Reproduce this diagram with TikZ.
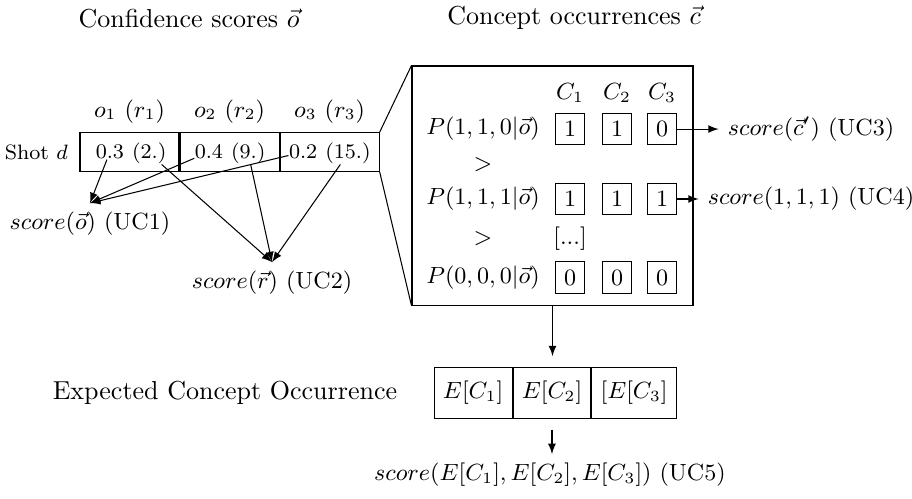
\documentclass[tikz,border=0pt]{standalone}
\usepackage{amssymb}
\usepackage{tikz}
\usetikzlibrary{
    arrows,
    calc,
    positioning
}

\begin{document}
\begin{tikzpicture}[
        cell/.style={draw, minimum width=1.338cm, minimum height=0.52cm},
        val/.style={inner sep=0pt, font=\footnotesize},
        bit/.style={draw, font=\small, minimum width=11pt, minimum height=12pt, inner sep=1pt},
        ecell/.style={draw, font=\small, minimum height=0.7cm},
        lbl/.style={font=\small}
    ]
    \useasboundingbox (0,0) rectangle (12.324,6.730);

    \node (hdro) at (2.554,6.486) {Confidence scores $\vec{o}$};
    \node (hdrc) at (7.757,6.486) {Concept occurrences $\vec{c}$};

    % confidence scores of the shot
    \node[cell] (s1) at (1.75,4.676) {};
    \node[cell, right=0pt of s1] (s2) {};
    \node[cell, right=0pt of s2] (s3) {};
    \node[font=\footnotesize, left=1pt of s1] (shot) {Shot $d$};
    \node[lbl, above=0pt of s1] (h1) {$o_1$ ($r_1$)};
    \node[lbl, above=0pt of s2] (h2) {$o_2$ ($r_2$)};
    \node[lbl, above=0pt of s3] (h3) {$o_3$ ($r_3$)};

    \node[val] (o1) at (1.485,4.676) {0.3};
    \node[val, base right=2.7pt of o1] (r1) {(2.)};
    \node[val] (o2) at (2.823,4.676) {0.4};
    \node[val, base right=2.7pt of o2] (r2) {(9.)};
    \node[val] (o3) at (4.096,4.676) {0.2};
    \node[val, base right=2.7pt of o3] (r3) {(15.)};

    \node[lbl] (uc1) at (1.216,3.703) {$score(\vec{o})$ (UC1)};
    \node[lbl] (uc2) at (3.676,2.905) {$score(\vec{r})$ (UC2)};

    \draw[-latex] (o1) -- (uc1.north);
    \draw[-latex] (o2) -- (uc1.north);
    \draw[-latex] (o3) -- (uc1.north);
    \draw[-latex] (r1) -- (uc2.north);
    \draw[-latex] (r2) -- (uc2.north);
    \draw[-latex] (r3) -- (uc2.north);

    % concept occurrences
    \node[draw, minimum width=3.797cm, minimum height=3.23cm] (big) at (7.466,4.223) {};
    \draw (s3.north east) -- (big.north west);
    \draw (s3.south east) -- (big.south west);

    \node[lbl] (c1) at (7.703,5.473) {$C_1$};
    \node[lbl] (c2) at (8.338,5.473) {$C_2$};
    \node[lbl] (c3) at (8.946,5.473) {$C_3$};

    \node[lbl] (p1) at (6.527,4.986) {$P(1,1,0|\vec{o})$};
    \node[bit] (b11) at (7.703,4.986) {1};
    \node[bit] (b12) at (8.338,4.986) {1};
    \node[bit] (b13) at (8.946,4.986) {0};
    \node[lbl] (gt1) at (6.527,4.5) {$>$};

    \node[lbl] (p2) at (6.527,4.041) {$P(1,1,1|\vec{o})$};
    \node[bit] (b21) at (7.703,4.041) {1};
    \node[bit] (b22) at (8.338,4.041) {1};
    \node[bit] (b23) at (8.946,4.041) {1};
    \node[lbl] (gt2) at (6.527,3.5) {$>$};
    \node[lbl] (more) at (7.703,3.5) {[...]};

    \node[lbl] (p3) at (6.527,2.980) {$P(0,0,0|\vec{o})$};
    \node[bit] (b31) at (7.703,2.980) {0};
    \node[bit] (b32) at (8.338,2.980) {0};
    \node[bit] (b33) at (8.946,2.980) {0};

    \node[lbl] (uc3) at (10.96,4.986) {$score(\vec{c}')$ (UC3)};
    \node[lbl] (uc4) at (10.96,4.041) {$score(1,1,1)$ (UC4)};
    \draw[-latex] (b13) -- (uc3);
    \draw[-latex] (b23) -- (uc4);

    % expected occurrence
    \node (eco) at (3.04,1.419) {Expected Concept Occurrence};
    \node[ecell] (e2) at (7.459,1.419) {$E[C_2]$};
    \node[ecell, left=0pt of e2] (e1) {$E[C_1]$};
    \node[ecell, right=0pt of e2] (e3) {$[E[C_3]$};
    \node[lbl] (uc5) at (7.432,0.311) {$score(E[C_1],E[C_2],E[C_3])$ (UC5)};

    \draw[-latex, shorten >=4pt] (big.south) -- (big.south |- e2.north);
    \draw[-latex, shorten <=4pt] (e2.south) -- (e2.south |- uc5.north);
\end{tikzpicture}
\end{document}
